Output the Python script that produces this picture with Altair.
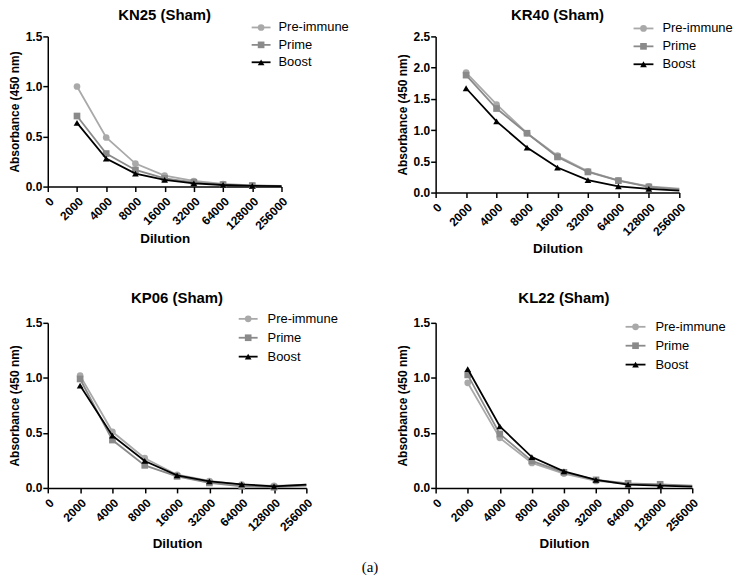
import altair as alt
import pandas as pd

FONT = "Liberation Sans"

x_labels = ["0", "2000", "4000", "8000", "16000", "32000", "64000", "128000", "256000"]
dilutions = ["2000", "4000", "8000", "16000", "32000", "64000", "128000", "256000"]
series = ["Pre-immune", "Prime", "Boost"]

kn25_pre = [1.00, 0.49, 0.23, 0.11, 0.056, 0.026, 0.013, 0.006]
kn25_prime = [0.705, 0.33, 0.166, 0.083, 0.043, 0.02, 0.01, 0.005]
kn25_boost = [0.636, 0.28, 0.13, 0.066, 0.033, 0.016, 0.007, 0.004]

kr40_pre = [1.92, 1.41, 0.95, 0.59, 0.34, 0.196, 0.10, 0.064]
kr40_prime = [1.88, 1.345, 0.95, 0.57, 0.33, 0.19, 0.09, 0.05]
kr40_boost = [1.67, 1.14, 0.72, 0.40, 0.20, 0.10, 0.058, 0.03]

kp06_pre = [1.02, 0.51, 0.27, 0.12, 0.063, 0.03, 0.018, 0.03]
kp06_prime = [0.99, 0.435, 0.205, 0.105, 0.045, 0.015, 0.006, 0.02]
kp06_boost = [0.93, 0.475, 0.245, 0.115, 0.06, 0.033, 0.015, 0.03]

kl22_pre = [0.955, 0.455, 0.227, 0.13, 0.064, 0.036, 0.027, 0.015]
kl22_prime = [1.027, 0.49, 0.245, 0.142, 0.073, 0.042, 0.033, 0.02]
kl22_boost = [1.08, 0.56, 0.28, 0.15, 0.073, 0.03, 0.02, 0.012]

panel_titles = ["KN25 (Sham)", "KR40 (Sham)", "KP06 (Sham)", "KL22 (Sham)"]
figure_label = "(a)"

colors = {"Pre-immune": "#a9a9a9", "Prime": "#8a8a8a", "Boost": "#000000"}
shapes = {"Pre-immune": "circle", "Prime": "square", "Boost": "triangle-up"}


def panel(title, values, ymax, ystep, width, height, leg, title_y, xtitle_pad, extra=None):
    rows = []
    for s, vals in zip(series, values):
        for d, v in zip(dilutions, vals):
            rows.append({"series": s, "dil": d, "value": v, "marker": d != "256000"})
    df = pd.DataFrame(rows)
    ticks = [round(i * ystep, 2) for i in range(int(round(ymax / ystep)) + 1)]
    x = alt.X("dil:O", sort=x_labels,
              scale=alt.Scale(domain=x_labels, type="point", padding=0),
              axis=alt.Axis(title="Dilution", labelAngle=-45, labelAlign="right",
                            labelBaseline="top", titlePadding=xtitle_pad,
                            labelPadding=4, titleFontSize=13.5))
    y = alt.Y("value:Q", scale=alt.Scale(domain=[0, ymax], nice=False),
              axis=alt.Axis(title="Absorbance (450 nm)", values=ticks, format=".1f",
                            titlePadding=4, labelPadding=1, titleFontSize=12))
    base = alt.Chart(df)
    layers = []
    for s in series:
        sub = base.transform_filter(alt.datum.series == s)
        layers.append(sub.mark_line(color=colors[s], strokeWidth=1.8).encode(x=x, y=y))
        layers.append(sub.transform_filter(alt.datum.marker).mark_point(
            filled=True, shape=shapes[s], color=colors[s], size=45, opacity=1).encode(x=x, y=y))
    x0, x1, xt, y0, dy = leg
    for i, s in enumerate(series):
        ld = alt.Data(values=[{"label": s}])
        yy = y0 + i * dy
        layers.append(alt.Chart(ld).mark_rule(color=colors[s], strokeWidth=1.8).encode(
            x=alt.value(x0), x2=alt.value(x1), y=alt.value(yy)))
        layers.append(alt.Chart(ld).mark_point(
            filled=True, shape=shapes[s], color=colors[s], size=45, opacity=1).encode(
            x=alt.value((x0 + x1) / 2), y=alt.value(yy)))
        layers.append(alt.Chart(ld).mark_text(
            align="left", baseline="middle", font=FONT, fontSize=13, color="black").encode(
            x=alt.value(xt), y=alt.value(yy), text="label:N"))
    td = alt.Data(values=[{"t": title}])
    layers.append(alt.Chart(td).mark_text(
        align="center", baseline="middle", font=FONT, fontSize=15, fontWeight="bold",
        color="black").encode(x=alt.value(width / 2), y=alt.value(title_y), text="t:N"))
    if extra is not None:
        ex_text, ex_x, ex_y = extra
        ed = alt.Data(values=[{"t": ex_text}])
        layers.append(alt.Chart(ed).mark_text(
            align="center", baseline="middle", font="Liberation Serif", fontSize=15,
            color="black").encode(x=alt.value(ex_x), y=alt.value(ex_y), text="t:N"))
    return alt.layer(*layers).properties(width=width, height=height)


p1 = panel(panel_titles[0], [kn25_pre, kn25_prime, kn25_boost], 1.5, 0.5, 235, 151,
           (205, 224, 232, -9, 17.5), -22, 0)
p2 = panel(panel_titles[1], [kr40_pre, kr40_prime, kr40_boost], 2.5, 0.5, 245, 157,
           (199, 219, 228, -8, 18), -22, 4)
p3 = panel(panel_titles[2], [kp06_pre, kp06_prime, kp06_boost], 1.5, 0.5, 260, 166,
           (192, 211, 221, -4, 19), -25, 4, extra=(figure_label, 324, 246))
p4 = panel(panel_titles[3], [kl22_pre, kl22_prime, kl22_boost], 1.5, 0.5, 258, 166,
           (191, 211, 221, 4, 19), -25, 4)

chart = alt.concat(p1, p2, p3, p4, columns=2, spacing={"row": 131, "column": 130},
                   bounds="flush").properties(
    padding={"left": 0, "top": -2, "right": 0, "bottom": 0}).configure_view(
    stroke=None).configure_axis(
    labelFont=FONT, labelFontWeight="bold", labelFontSize=12, labelColor="black",
    titleFont=FONT, titleFontWeight="bold", titleColor="black",
    domainColor="black", tickColor="black", domainWidth=1.5, tickWidth=1.5,
    tickSize=5, grid=False,
)

chart.save("out.html", embed_options={"renderer": "svg", "actions": False})
